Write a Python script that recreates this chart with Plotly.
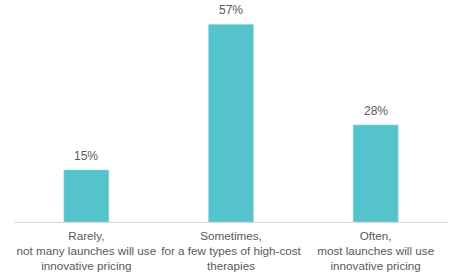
import plotly.graph_objects as go

categories = [
    "Rarely,<br>not many launches will use<br>innovative pricing",
    "Sometimes,<br>for a few types of high-cost<br>therapies",
    "Often,<br>most launches will use<br>innovative pricing",
]
values = [15, 57, 28]
labels = ["15%", "57%", "28%"]

fig = go.Figure(go.Bar(
    x=categories, y=values,
    marker=dict(color="#55C3CB", line=dict(color="#8fd6dc", width=0.6)),
    cliponaxis=False, width=0.31,
))
for c, v, t in zip(categories, values, labels):
    fig.add_annotation(x=c, y=v, text=t, showarrow=False, yanchor="bottom",
                       yshift=5, font=dict(size=12, color="#595959"))
fig.update_layout(
    width=462, height=277, margin=dict(l=14, r=14, t=5, b=55),
    plot_bgcolor="white", paper_bgcolor="white", showlegend=False,
    font=dict(family="Liberation Sans, Arial", size=12, color="#595959"),
)
fig.update_xaxes(showline=True, linecolor="#d9d9d9", linewidth=1, ticks="",
                 tickangle=0, automargin=False, ticklabelstandoff=3,
                 tickfont=dict(size=11.7, color="#595959"))
fig.update_yaxes(range=[0, 62.6], visible=False, showgrid=False)
fig.write_html("out.html")
